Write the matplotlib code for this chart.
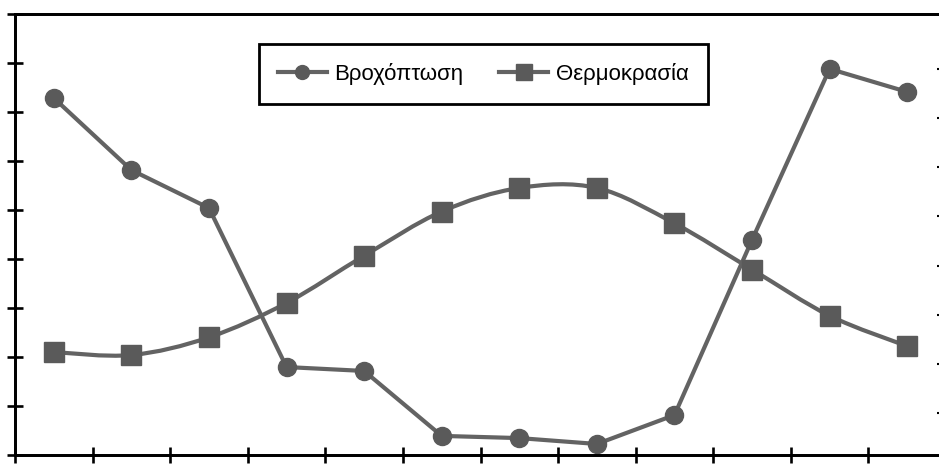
import matplotlib
matplotlib.use("Agg")
import matplotlib.pyplot as plt
import numpy as np
from matplotlib.path import Path
from matplotlib.patches import PathPatch
from matplotlib.lines import Line2D

plt.rcParams['font.family'] = ['Liberation Sans', 'DejaVu Sans']

# Monthly climate values (Jan..Dec)
months = ["Ι", "Φ", "Μ", "Α", "Μ", "Ι", "Ι", "Α", "Σ", "Ο", "Ν", "Δ"]
rain_mm = [145.7, 116.3, 100.8, 35.9, 34.3, 7.8, 6.9, 4.5, 16.3, 87.8, 157.6, 148.2]
temp_c = [11.2, 10.9, 12.7, 16.2, 21.0, 25.5, 27.9, 27.9, 24.3, 19.6, 14.9, 11.8]
series_names = ["Βροχόπτωση", "Θερμοκρασία"]

W, H, DPI = 939, 465, 100
fig = plt.figure(figsize=(W / DPI, H / DPI), dpi=DPI, facecolor="white")

# plot area: left spine at x=15, bottom at y=455, top at y=14, right spine off-canvas at x=946
left_px, right_px, top_px, bottom_px = 15, 946, 14, 455
ax = fig.add_axes([left_px / W, (H - bottom_px) / H,
                   (right_px - left_px) / W, (bottom_px - top_px) / H])
ax2 = ax.twinx()

line_col = "#636363"
mark_col = "#5a5a5a"
lw = 3.0

x = np.arange(len(months)) + 0.5

# precipitation: straight segments with round markers
ax.plot(x, rain_mm, color=line_col, lw=lw, marker="o", ms=13,
        mfc=mark_col, mec=mark_col, zorder=3, solid_capstyle="round")

# temperature: smoothed curve through the points (cardinal spline as cubic Bezier)
pts = np.column_stack([x, temp_c])
verts = [tuple(pts[0])]
codes = [Path.MOVETO]
n = len(pts)
for i in range(n - 1):
    p0 = pts[max(i - 1, 0)]
    p1 = pts[i]
    p2 = pts[i + 1]
    p3 = pts[min(i + 2, n - 1)]
    c1 = p1 + (p2 - p0) / 6.0
    c2 = p2 - (p3 - p1) / 6.0
    verts += [tuple(c1), tuple(c2), tuple(p2)]
    codes += [Path.CURVE4] * 3
ax2.add_patch(PathPatch(Path(verts, codes), facecolor="none", edgecolor=line_col,
                        lw=lw, zorder=3, capstyle="round"))
ax2.plot(x, temp_c, ls="none", marker="s", ms=14.5, mfc=mark_col, mec=mark_col, zorder=4)

ax.set_xlim(0, 12)
ax.set_ylim(0, 180)
ax.set_yticks(np.arange(0, 181, 20))
ax.set_xticks(np.arange(0, 13, 1))
ax2.set_ylim(0.73, 45.6)
ax2.set_yticks(np.arange(5, 41, 5))

for a in (ax, ax2):
    for s in a.spines.values():
        s.set_linewidth(2.0)
        s.set_color("black")
ax.tick_params(axis="both", which="both", direction="inout", length=11, width=1.9,
               color="black", labelleft=False, labelbottom=False)
ax2.tick_params(axis="y", direction="inout", length=13, width=1.5,
                color="black", labelright=False)
ax2.tick_params(axis="x", bottom=False, top=False)

handles = [
    Line2D([], [], color=line_col, lw=lw, marker="o", ms=10, mfc=mark_col, mec=mark_col),
    Line2D([], [], color=line_col, lw=lw, marker="s", ms=11, mfc=mark_col, mec=mark_col),
]
leg = ax2.legend(handles, series_names, ncol=2, loc="upper left",
                 bbox_to_anchor=((259 - left_px) / (right_px - left_px), 1 - (44 - top_px) / (bottom_px - top_px)),
                 fontsize=16, frameon=True, fancybox=False, borderpad=0.85,
                 handlelength=2.2, handletextpad=0.35, columnspacing=1.6,
                 borderaxespad=0.0)
frame = leg.get_frame()
frame.set_edgecolor("black")
frame.set_linewidth(2.0)
frame.set_facecolor("white")
frame.set_alpha(1.0)

fig.savefig("out.png", dpi=DPI, facecolor="white")
